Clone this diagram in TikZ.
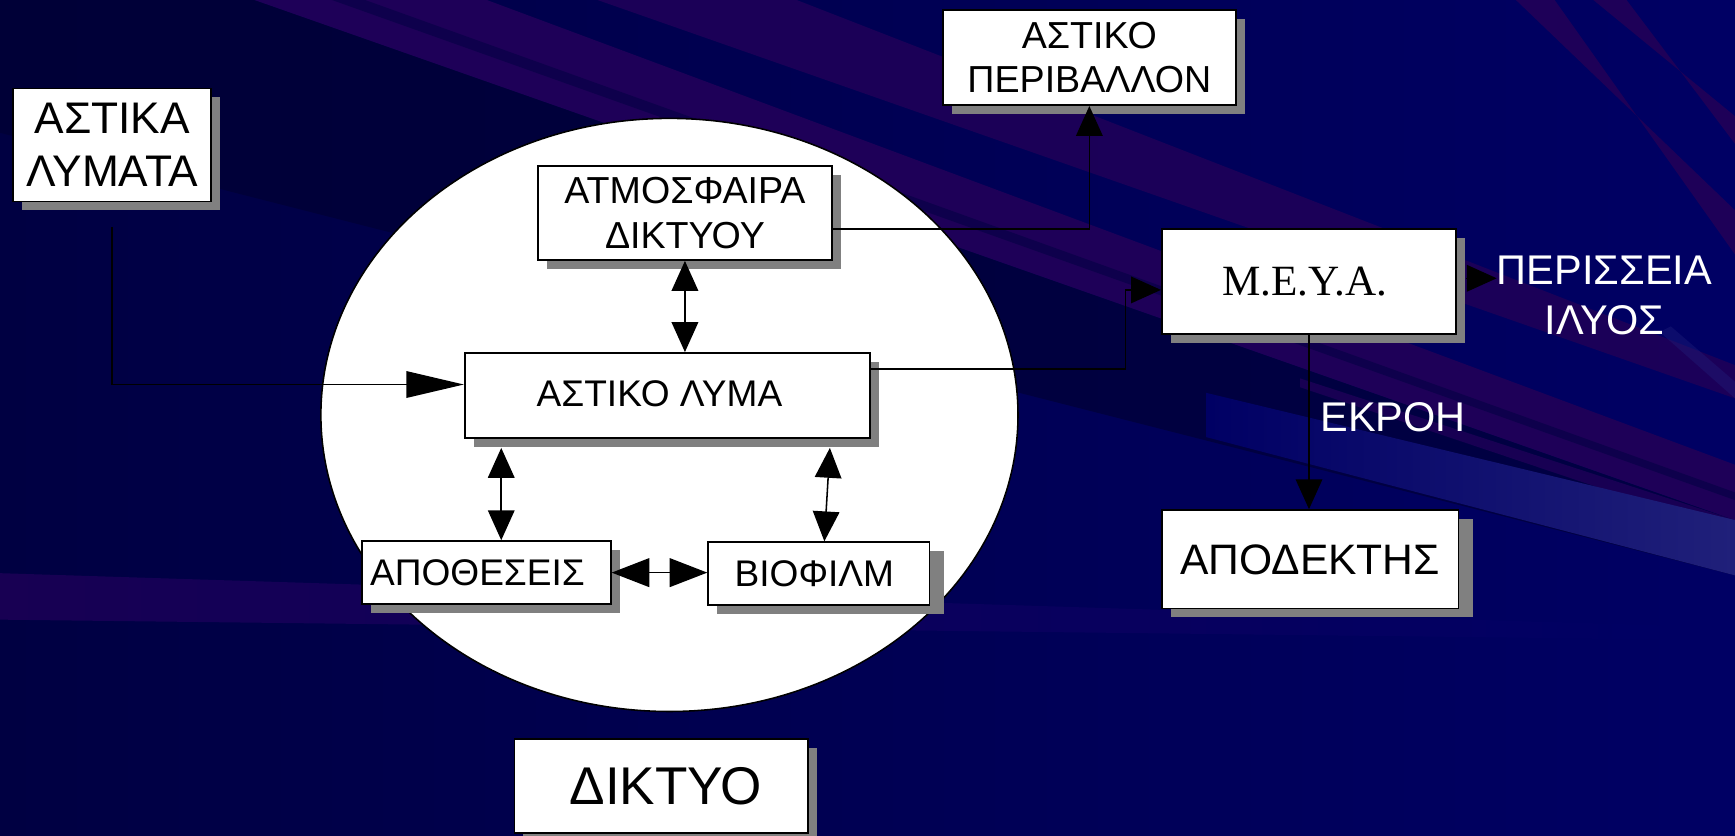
\documentclass[tikz,border=0pt]{standalone}
\usepackage{fontspec}
\setmainfont{Liberation Sans}
\newfontfamily\timesf{Liberation Serif}
\usetikzlibrary{arrows.meta,shadows,calc}
\definecolor{bgL}{RGB}{0,0,66}
\definecolor{bgR}{RGB}{0,0,100}
\definecolor{bgdark}{RGB}{0,0,48}
\definecolor{purpleband}{RGB}{30,0,88}
\definecolor{lightband}{RGB}{32,32,122}
\definecolor{shadowgray}{RGB}{128,128,128}
\tikzset{
  box/.style={draw=black, fill=white, line width=1.6pt, inner sep=0pt, align=center,
    drop shadow={shadow xshift=8pt, shadow yshift=-8pt, fill=shadowgray, opacity=1}},
  wideshadow/.style={drop shadow={shadow xshift=13pt, shadow yshift=-8pt, fill=shadowgray, opacity=1}},
  conn/.style={draw=black, line width=1.4pt},
  label/.style={text=white, inner sep=0pt, align=center},
  fA/.style={font=\fontsize{40}{48}\selectfont},
  fB/.style={font=\fontsize{34}{40}\selectfont},
  fC/.style={font=\fontsize{33.5}{40}\selectfont},
  fD/.style={font=\fontsize{37.5}{45}\selectfont},
  >={Triangle[length=27pt,width=24pt]}
}
\begin{document}
\begin{tikzpicture}[x=1pt,y=-1pt]
\useasboundingbox (0,0) rectangle (1568,755);
% background
\shade[left color=bgL, right color=bgR] (0,0) rectangle (1568,755);
\fill[bgdark, opacity=0.6] (0,0) -- (230,0) -- (1568,470) -- (1568,520) -- (0,120) -- cycle;
\fill[purpleband] (230,0) -- (440,0) -- (1568,420) -- (1568,470) -- cycle;
\fill[bgL, opacity=0.5] (300,0) -- (330,0) -- (1568,445) -- (1568,452) -- cycle;
\fill[purpleband, opacity=0.9] (540,0) -- (720,0) -- (1568,330) -- (1568,360) -- cycle;
\fill[purpleband] (1370,0) -- (1405,0) -- (1568,230) -- (1568,190) -- cycle;
\fill[purpleband] (1440,0) -- (1470,0) -- (1568,130) -- (1568,105) -- cycle;
\fill[purpleband, opacity=0.8] (1175,342) -- (1568,470) -- (1568,482) -- (1175,350) -- cycle;
\shade[left color=bgR, right color=lightband] (1090,355) -- (1568,470) -- (1568,520) -- (1090,395) -- cycle;
\shade[left color=purpleband, right color=bgR, opacity=0.8] (0,518) -- (1520,566) -- (1520,578) -- (0,560) -- cycle;
\fill[lightband, opacity=0.4] (1500,300) -- (1510,295) -- (1568,345) -- (1568,360) -- cycle;

% network ellipse
\draw[fill=white, line width=1.4pt] (605,375) ellipse [x radius=315pt, y radius=268pt];

% boxes
\node[box, fA, minimum width=179pt, minimum height=102pt] (lymata) at (101.5,131) {ΑΣΤΙΚΑ\\ΛΥΜΑΤΑ};
\node[box, fB, minimum width=265pt, minimum height=86pt] (periv) at (984.5,52) {ΑΣΤΙΚΟ\\ΠΕΡΙΒΑΛΛΟΝ};
\node[box, fB, minimum width=266pt, minimum height=85pt] (atmo) at (619,192.5) {ΑΤΜΟΣΦΑΙΡΑ\\ΔΙΚΤΥΟΥ};
\node[box, fC, minimum width=366pt, minimum height=77pt] (lyma) at (603,357.5) {\raisebox{4pt}{ΑΣΤΙΚΟ ΛΥΜΑ}\hspace*{14pt}};
\node[box, fC, minimum width=225pt, minimum height=57pt] (apoth) at (439.5,517.5) {ΑΠΟΘΕΣΕΙΣ\hspace*{16pt}};
\node[box, wideshadow, fC, minimum width=200pt, minimum height=57pt] (biof) at (740,518.5) {ΒΙΟΦΙΛΜ\hspace*{8pt}};
\node[box, font=\timesf\fontsize{39}{46}\selectfont, minimum width=266pt, minimum height=95pt] (meya) at (1183,254.5) {Μ.Ε.Υ.Α.\hspace*{8pt}};
\node[box, wideshadow, font=\fontsize{38.5}{46}\selectfont, minimum width=268pt, minimum height=89pt] (apodek) at (1184,505.5) {ΑΠΟΔΕΚΤΗΣ};
\node[box, font=\fontsize{48}{56}\selectfont, minimum width=265pt, minimum height=85pt] (diktyo) at (597.5,710.5) {\hspace*{8pt}ΔΙΚΤΥΟ};

% white labels
\node[label, fD] (per) at (1450,267) {ΠΕΡΙΣΣΕΙΑ\\ΙΛΥΟΣ};
\node[label, fD] (ekroh) at (1259,377) {ΕΚΡΟΗ};

% connectors
\coordinate (c1) at (101,205);
\draw[conn, -{Triangle[length=52pt,width=24pt]}] (c1) |- ([yshift=10pt]lyma.west);
\draw[conn, ->] ([yshift=-14.5pt]atmo.east) -| (periv.south);
\coordinate (k1) at (1017,333.5);
\draw[conn, ->] ([yshift=24pt]lyma.east) -- (k1) |- ([yshift=-7.5pt]meya.west);
\draw[conn, <->] (atmo.south) -- (atmo.south |- lyma.north);
\draw[conn, <->] ([xshift=13.5pt,yshift=-8pt]lyma.south -| apoth.north) -- ([xshift=13.5pt]apoth.north);
\draw[conn, <->] ([xshift=10pt,yshift=-8pt]lyma.south -| biof.north) -- ([xshift=5pt]biof.north);
\draw[conn, {Triangle[length=34pt,width=26pt]}-{Triangle[length=34pt,width=26pt]}] (apoth.east) -- (apoth.east -| biof.west);
\draw[conn, ->] ([xshift=8pt,yshift=3pt]meya.east) -- ([yshift=3pt]meya.east -| per.west);
\draw[conn, ->] (meya.south) -- (meya.south |- apodek.north);
\end{tikzpicture}
\end{document}
